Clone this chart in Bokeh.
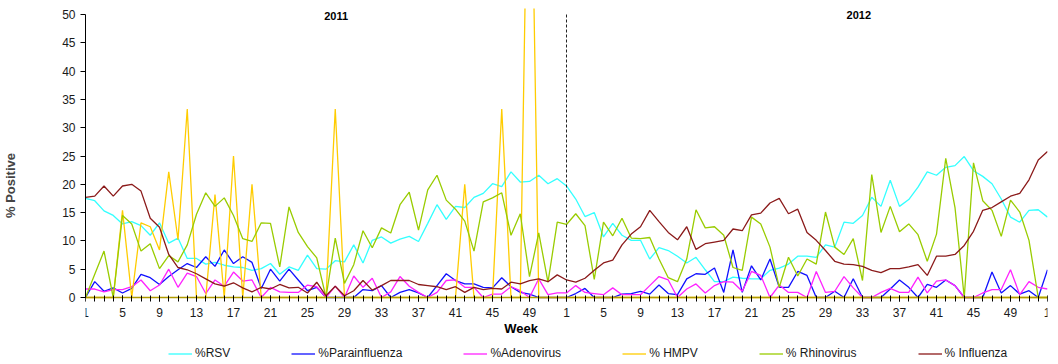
from bokeh.plotting import figure
from bokeh.models import Range1d, FixedTicker, Label, Legend, LegendItem
from bokeh.embed import file_html
from bokeh.resources import INLINE

# index 0..104 : 2011 weeks 1-52, 2012 weeks 1-52, 2013 week 1
idx = list(range(105))
tick_pos = list(range(0, 105, 4))
tick_labels = {i: str(i % 52 + 1) for i in tick_pos}
year_labels = ["2011", "2012"]
year_start_2012 = 52
y_max = 50

rsv = [17.5, 17.1, 15.3, 14.5, 13.0, 13.4, 12.7, 11.0, 13.2, 9.6,
       10.5, 6.9, 6.9, 5.9, 6.2, 5.7, 5.4, 5.3, 4.8, 5.1,
       6.0, 4.1, 5.4, 4.8, 7.5, 5.1, 5.0, 6.5, 6.3, 9.3,
       6.1, 10.1, 10.7, 9.6, 10.3, 10.8, 9.9, 13.1, 16.4, 13.8,
       16.1, 15.9, 17.7, 18.4, 20.1, 19.6, 22.2, 20.4, 20.5, 21.6,
       20.1, 21.0, 19.7, 17.4, 14.3, 15.0, 10.7, 13.1, 11.0, 10.1,
       10.1, 6.8, 8.8, 8.3, 7.3, 6.1, 7.1, 4.9, 2.8, 2.8,
       3.6, 3.4, 3.3, 3.3, 4.8, 5.2, 5.9, 7.3, 7.3, 7.1,
       9.3, 8.9, 13.3, 13.1, 14.5, 17.7, 16.1, 20.7, 16.1, 17.3,
       19.5, 22.2, 21.6, 23.0, 23.3, 24.9, 22.4, 21.4, 20.1, 17.4,
       14.2, 13.3, 15.4, 15.5, 14.2]

parainfluenza = [0, 2.8, 1.1, 1.7, 0.8, 1.6, 4.1, 3.5, 2.3, 3.7,
                 4.9, 6.0, 5.3, 7.2, 5.5, 8.4, 6.0, 7.2, 6.2, 1.6,
                 5.0, 2.9, 5.0, 3.1, 1.2, 1.8, 0, 0, 0, 0,
                 1.4, 1.2, 2.1, 0, 0.9, 1.4, 0.8, 0, 2.1, 4.2,
                 3.0, 2.4, 2.4, 1.8, 1.7, 3.5, 1.9, 0.9, 0.6, 0,
                 0, 0, 0, 0.7, 1.6, 0, 0, 0, 0.6, 0.7,
                 1.1, 0.6, 2.2, 0.7, 0.5, 3.3, 4.2, 4.1, 5.2, 0.9,
                 8.4, 0.9, 5.6, 3.1, 6.8, 1.8, 1.8, 4.6, 3.9, 0,
                 0, 1.1, 0, 3.3, 0, 0, 0, 1.5, 3.1, 1.8,
                 0, 2.3, 1.8, 3.1, 2.1, 0, 0, 0, 4.5, 0.8,
                 2.1, 0.6, 1.2, 0, 4.9]

adenovirus = [1.5, 1.5, 1.0, 1.4, 1.4, 1.9, 3.1, 1.2, 2.2, 5.0,
              1.8, 4.3, 3.7, 0.7, 3.1, 2.0, 4.5, 2.9, 3.1, 0,
              1.8, 1.0, 0.9, 0.9, 2.2, 1.9, 0, 2.0, 0, 3.8,
              1.8, 3.4, 0, 1.0, 3.7, 2.0, 0.9, 0, 0.9, 3.0,
              3.1, 1.8, 1.8, 0, 0.6, 0.6, 1.9, 1.2, 0, 3.3,
              0.5, 0.8, 0.8, 2.1, 0.9, 0.7, 0.5, 1.7, 0.5, 0.5,
              0.5, 2.1, 3.7, 3.1, 0, 1.5, 2.4, 0.8, 2.1, 2.8,
              2.7, 1.1, 4.6, 3.9, 0, 2.2, 0.9, 0.9, 0, 4.6,
              0.9, 1.1, 3.7, 1.7, 0, 0, 0.9, 1.6, 0.9, 0.9,
              3.6, 0.8, 2.9, 3.1, 2.1, 0, 0, 0.8, 1.4, 1.4,
              4.9, 0.5, 2.8, 1.8, 1.5]

hmpv = [0, 0, 0, 0, 15.4, 0, 13.2, 12.5, 8.4, 22.2,
        10.2, 33.3, 0, 0, 18.2, 0, 25.0, 0, 20.0, 0,
        0, 0, 0, 0, 0, 0, 0, 33.3, 0, 0,
        0, 0, 0, 0, 0, 0, 0, 0, 0, 0,
        0, 20.0, 0, 0, 0, 33.3, 0, 0, 100.0, 0,
        0, 0, 0, 0, 0, 0, 0, 0, 0, 0,
        0, 0, 0, 0, 0, 0, 0, 0, 0, 0,
        0, 0, 0, 0, 0, 0, 0, 0, 0, 0,
        0, 0, 0, 0, 0, 0, 0, 0, 0, 0,
        0, 0, 0, 0, 0, 0, 0, 0, 0, 0,
        0, 0, 0, 0, 0]

rhinovirus = [0, 4.1, 8.2, 0, 14.5, 13.0, 8.2, 9.5, 5.1, 7.4,
              6.3, 9.3, 14.7, 18.5, 16.1, 17.6, 14.5, 10.4, 9.9, 13.2,
              13.1, 5.4, 16.0, 11.5, 9.0, 7.0, 0, 10.5, 2.5, 5.8,
              11.8, 8.8, 12.3, 11.4, 16.4, 18.6, 11.9, 19.0, 21.6, 17.2,
              15.6, 13.5, 8.2, 16.9, 17.6, 18.5, 11.0, 14.8, 3.7, 11.4,
              2.7, 13.3, 12.9, 14.8, 12.7, 3.2, 13.3, 10.9, 14.0, 10.5,
              10.4, 10.6, 6.8, 3.5, 2.8, 6.8, 15.5, 12.3, 12.5, 11.0,
              5.3, 4.8, 14.2, 13.0, 8.9, 1.8, 7.1, 3.8, 6.8, 5.9,
              15.1, 8.9, 7.6, 10.4, 3.0, 21.7, 11.5, 16.1, 11.6, 13.0,
              11.1, 6.4, 11.2, 24.6, 15.9, 0, 23.8, 17.1, 15.4, 10.8,
              17.2, 15.1, 10.1, 0, 0]

influenza = [17.7, 17.9, 19.7, 17.9, 19.7, 20.0, 18.8, 14.0, 12.4, 7.6,
             5.3, 4.9, 4.2, 3.3, 2.4, 2.0, 2.6, 1.7, 1.0, 1.8,
             1.5, 2.3, 1.7, 1.8, 0.8, 2.7, 0.3, 2.0, 0.3, 1.2,
             3.0, 1.3, 2.1, 3.0, 3.0, 3.0, 2.3, 2.1, 1.9, 1.4,
             1.9, 0.9, 1.8, 1.4, 1.6, 1.5, 2.7, 2.4, 3.0, 3.3,
             2.8, 4.0, 3.1, 2.7, 3.4, 4.8, 6.1, 6.6, 9.3, 11.2,
             12.5, 15.4, 13.4, 11.5, 10.2, 12.5, 8.5, 9.5, 9.8, 10.1,
             12.1, 11.8, 14.6, 14.9, 16.7, 17.5, 14.8, 15.6, 11.5, 10.1,
             8.3, 6.4, 5.9, 5.8, 5.5, 4.8, 4.4, 5.1, 5.1, 5.4,
             5.8, 3.9, 7.3, 7.3, 7.6, 9.2, 11.7, 15.4, 15.9, 16.9,
             17.9, 18.4, 20.8, 24.3, 25.8]

series_names = ["%RSV", "%Parainfluenza", "%Adenovirus", "% HMPV", "% Rhinovirus", "% Influenza"]
series_values = [rsv, parainfluenza, adenovirus, hmpv, rhinovirus, influenza]
series_colors = ["#33FFFF", "#1010FF", "#FF22FF", "#FFCC00", "#99CC00", "#8B1A1A"]

FONT = "Liberation Sans"
PX_PER_UNIT = 283 / 50.0
W = 1050
H = 362
FRAME_TOP = 8        # canvas px where the frame starts
ZERO_Y = 297         # canvas px of value 0
top_val = y_max + (ZERO_Y - 283 - FRAME_TOP) / PX_PER_UNIT
bot_val = -(H - ZERO_Y) / PX_PER_UNIT

p = figure(width=W, height=H, output_backend="svg", toolbar_location=None,
           x_range=Range1d(0, 104), y_range=Range1d(bot_val, top_val),
           min_border_left=85, min_border_right=3, min_border_top=FRAME_TOP, min_border_bottom=0)
p.outline_line_color = None
p.xgrid.grid_line_color = None
p.ygrid.grid_line_color = None
p.background_fill_color = "white"
p.border_fill_color = "white"

renderers = []
for name, vals, col in zip(series_names, series_values, series_colors):
    r = p.line(idx, vals, line_color=col, line_width=1.3)
    renderers.append((name, r))

# dashed year separator from axis to top of value range
p.segment(x0=[year_start_2012], y0=[0], x1=[year_start_2012], y1=[y_max],
          line_color="#222222", line_dash="3 2", line_width=1)

# axes
xa = p.xaxis[0]
xa.fixed_location = 0
xa.ticker = FixedTicker(ticks=tick_pos, minor_ticks=idx)
xa.major_label_overrides = tick_labels
xa.axis_line_color = "#B09A00"
xa.axis_line_width = 1.5
xa.major_tick_line_color = "black"
xa.minor_tick_line_color = "black"
xa.major_tick_in = 2
xa.major_tick_out = 4
xa.minor_tick_in = 2
xa.minor_tick_out = 4
xa.major_label_standoff = 6
xa.major_label_text_font = FONT
xa.major_label_text_font_size = "12px"
xa.major_label_text_color = "#1a1a1a"

ya = p.yaxis[0]
ya.bounds = (0, y_max)
ya.ticker = FixedTicker(ticks=list(range(0, 51, 5)))
ya.axis_line_color = "black"
ya.major_tick_line_color = "black"
ya.minor_tick_line_color = None
ya.major_tick_in = 0
ya.major_tick_out = 5
ya.major_label_standoff = 5
ya.major_label_text_font = FONT
ya.major_label_text_font_size = "12px"
ya.major_label_text_color = "#1a1a1a"
ya.axis_label = "% Positive"
ya.axis_label_text_font = FONT
ya.axis_label_text_font_size = "13px"
ya.axis_label_text_font_style = "bold"
ya.axis_label_standoff = 41

p.add_layout(Label(x=47.1, y=-31 / PX_PER_UNIT, text="Week", text_align="center", text_baseline="middle",
                   text_font=FONT, text_font_size="13px", text_font_style="bold", text_color="black"))
p.add_layout(Label(x=27.1, y=y_max - 1 / PX_PER_UNIT, text=year_labels[0], text_align="center",
                   text_baseline="middle", text_font=FONT, text_font_size="11px",
                   text_font_style="bold", text_color="black"))
p.add_layout(Label(x=83.6, y=y_max - 0.2 / PX_PER_UNIT, text=year_labels[1], text_align="center",
                   text_baseline="middle", text_font=FONT, text_font_size="11px",
                   text_font_style="bold", text_color="black"))

legend = Legend(items=[LegendItem(label=n, renderers=[r]) for n, r in renderers],
                location=(83, 2), orientation="horizontal",
                glyph_width=24, glyph_height=13, label_height=13, label_standoff=3,
                spacing=61, padding=0, margin=0,
                border_line_color=None, background_fill_alpha=0,
                label_text_font=FONT, label_text_font_size="12px", label_text_color="#1a1a1a")
p.add_layout(legend, "center")

open("out.html", "w").write(file_html(p, INLINE))
